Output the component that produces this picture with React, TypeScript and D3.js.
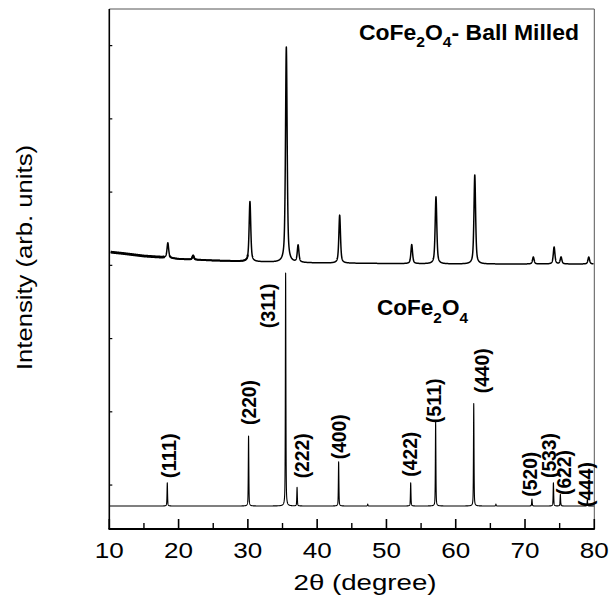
import React from "react";
import * as d3 from "d3";

// ---------- data ----------
const xTicks = [10, 20, 30, 40, 50, 60, 70, 80];
const xMinorTicks = [15, 25, 35, 45, 55, 65, 75];
const yTicks = [0, 1000, 2000, 3000, 4000, 5000, 6000];

// Ball-milled pattern: background knots and peaks (angle, height above background)
const bgAngle = [10, 12, 15, 18, 20, 25, 30, 35, 40, 50, 60, 70, 80];
const bgMilled = [3182, 3162, 3127, 3107, 3087, 3066, 3052, 3039, 3032, 3025, 3018, 3018, 3018];
const peakMilled = [18.45, 22.1, 30.3, 35.55, 37.25, 43.25, 53.65, 57.15, 62.75, 71.2, 74.2, 75.2, 79.2];
const heightMilled = [205, 55, 820, 2940, 232, 655, 260, 915, 1215, 95, 232, 95, 95];

// Reference CoFe2O4 pattern
const hkl = ["(111)", "(220)", "(311)", "(222)", "(400)", "(422)", "(511)", "(440)", "(520)", "(533)", "(622)", "(444)"];
const peakRef = [18.37, 30.1, 35.45, 37.1, 43.1, 53.5, 57.1, 62.6, 71.0, 74.1, 75.1, 79.0];
const relRef = [10, 30, 100, 8, 19, 10, 36, 44, 3, 10, 5, 2.5];
const extraRefPeak = [47.3, 65.8];
const extraRefRel = [0.8, 0.8];
const refBaseline = -286;
const refScale = 31.8; // counts per % relative intensity

// label anchors (angle, intensity of the label's lower end)
const labelAngle = [18.66, 30.12, 32.9, 37.88, 43.22, 53.4, 56.86, 63.74, 70.79, 73.46, 75.69, 78.8];
const labelInt = [92, 820, 2140, 92, 352, 114, 843, 1253, -159, 96, -136, -300];

// ---------- layout ----------
const W = 609;
const H = 606;
const L = 109.3;
const R = 594.3;
const T = 9;
const B = 529;

const x = d3.scaleLinear().domain([10, 80]).range([L, R]);
const y = d3.scaleLinear().domain([-600, 6500]).range([B, T]);
const bg = d3.scaleLinear().domain(bgAngle).range(bgMilled).clamp(true);

function pv(t: number, t0: number, h: number, w: number, eta: number) {
  const u = (t - t0) / w;
  return h * (eta / (1 + 4 * u * u) + (1 - eta) * Math.exp(-4 * Math.LN2 * u * u));
}

function milledAt(t: number) {
  let v = bg(t);
  for (let i = 0; i < peakMilled.length; i++) v += pv(t, peakMilled[i], heightMilled[i], 0.28, 0.6);
  return v;
}

function refAt(t: number) {
  let v = refBaseline;
  for (let i = 0; i < peakRef.length; i++) v += pv(t, peakRef[i], relRef[i] * refScale, 0.09, 0.5);
  for (let i = 0; i < extraRefPeak.length; i++) v += pv(t, extraRefPeak[i], extraRefRel[i] * refScale, 0.09, 0.5);
  return v;
}

const samples = d3.range(10.2, 79.9, 0.01);
const samplesRef = d3.range(10, 80.001, 0.01);

const line = d3
  .line<[number, number]>()
  .x((d) => x(d[0]))
  .y((d) => y(d[1]));

const milledPts = samples.map((t) => [t, milledAt(t)] as [number, number]);
const milledPath = line(milledPts) || "";
const milledNoisyA = line(milledPts.filter((d) => d[0] < 18)) || "";
const milledNoisyB = line(milledPts.filter((d) => d[0] >= 18.7 && d[0] < 30)) || "";
const refPath = line(samplesRef.map((t) => [t, refAt(t)] as [number, number])) || "";

const font = "'Liberation Sans', Arial, Helvetica, sans-serif";

export default function App() {
  return (
    <svg width={W} height={H} style={{ position: "absolute", left: 0, top: 0, background: "#fff" }} fontFamily={font}>
      <rect x={0} y={0} width={W} height={H} fill="#fff" />
      {/* curves */}
      <path d={milledNoisyA} fill="none" stroke="#000" strokeWidth={2.8} strokeLinejoin="round" />
      <path d={milledNoisyB} fill="none" stroke="#000" strokeWidth={2.0} strokeLinejoin="round" />
      <path d={milledPath} fill="none" stroke="#000" strokeWidth={1.5} strokeLinejoin="round" />
      <path d={refPath} fill="none" stroke="#000" strokeWidth={1.1} strokeLinejoin="round" />

      {/* frame */}
      <line x1={L} y1={T} x2={R} y2={T} stroke="#555" strokeWidth={1} />
      <line x1={R} y1={T} x2={R} y2={B} stroke="#555" strokeWidth={1} />
      <line x1={L} y1={T} x2={L} y2={B} stroke="#000" strokeWidth={1.6} />
      <line x1={L - 0.8} y1={B} x2={R + 0.5} y2={B} stroke="#000" strokeWidth={2} />

      {/* x ticks */}
      {xTicks.map((t) => (
        <line key={"xt" + t} x1={x(t)} x2={x(t)} y1={B} y2={B - 10} stroke="#000" strokeWidth={1.6} />
      ))}
      {xMinorTicks.map((t) => (
        <line key={"xm" + t} x1={x(t)} x2={x(t)} y1={B} y2={B - 6} stroke="#000" strokeWidth={1.4} />
      ))}
      {xTicks.map((t) => (
        <text
          key={"xl" + t}
          x={x(t)}
          y={558}
          textAnchor="middle"
          fontSize={22}
          textLength={29}
          lengthAdjust="spacingAndGlyphs"
          fill="#000"
        >
          {t}
        </text>
      ))}

      {/* y ticks */}
      {yTicks.map((t) => (
        <line key={"yt" + t} x1={L} x2={L + 3} y1={y(t)} y2={y(t)} stroke="#000" strokeWidth={1.2} />
      ))}

      {/* axis titles */}
      <text x={365} y={590} textAnchor="middle" fontSize={22} textLength={143} lengthAdjust="spacingAndGlyphs" fill="#000">
        2θ (degree)
      </text>
      <text
        transform={`translate(32,257.5) rotate(-90)`}
        textAnchor="middle"
        fontSize={22}
        textLength={225}
        lengthAdjust="spacingAndGlyphs"
        fill="#000"
      >
        Intensity (arb. units)
      </text>

      {/* sample titles */}
      <text x={359} y={40} fontSize={22} fontWeight="bold" fill="#000" textLength={220} lengthAdjust="spacingAndGlyphs">
        CoFe
        <tspan fontSize={15} dy={7}>2</tspan>
        <tspan dy={-7}>O</tspan>
        <tspan fontSize={15} dy={7}>4</tspan>
        <tspan dy={-7}>- Ball Milled</tspan>
      </text>
      <text x={377} y={315} fontSize={22} fontWeight="bold" fill="#000" textLength={91} lengthAdjust="spacingAndGlyphs">
        CoFe
        <tspan fontSize={15} dy={8}>2</tspan>
        <tspan dy={-8}>O</tspan>
        <tspan fontSize={15} dy={8}>4</tspan>
      </text>

      {/* hkl labels */}
      {hkl.map((h, i) => (
        <text
          key={h}
          transform={`translate(${x(labelAngle[i])},${y(labelInt[i])}) rotate(-90)`}
          fontSize={20}
          fontWeight="bold"
          dominantBaseline="central"
          textLength={45}
          lengthAdjust="spacingAndGlyphs"
          fill="#000"
        >
          {h}
        </text>
      ))}
    </svg>
  );
}
